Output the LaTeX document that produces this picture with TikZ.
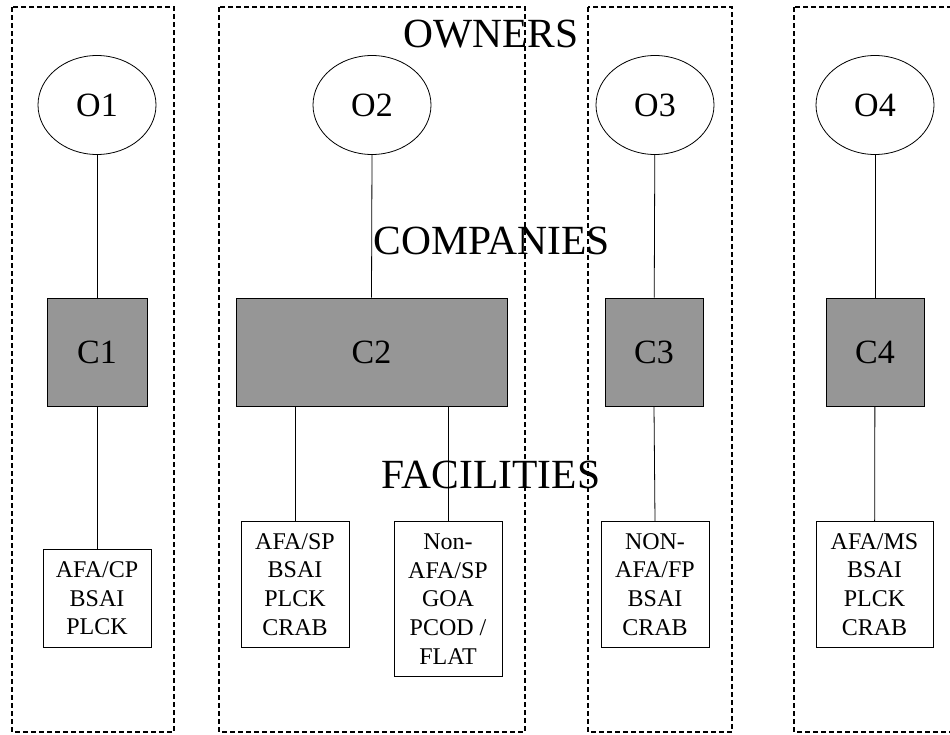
\documentclass[tikz,border=0pt]{standalone}
\usepackage{fontspec}
\setmainfont{Liberation Serif}
\usetikzlibrary{positioning}
\usetikzlibrary{shapes.geometric}
\definecolor{compgray}{RGB}{150,150,150}
\tikzstyle{owner} = [ellipse, draw=black, fill=white, line width=0.8pt, minimum width=118pt, minimum height=99pt, inner sep=0pt, font=\fontsize{34}{40}\selectfont]
\tikzstyle{company} = [rectangle, draw=black, fill=compgray, line width=0.8pt, minimum height=108pt, inner sep=0pt, font=\fontsize{34}{40}\selectfont]
\tikzstyle{facility} = [rectangle, draw=black, fill=white, line width=0.8pt, minimum width=108pt, inner sep=0pt, align=center, anchor=north, font=\fontsize{24}{28.7}\selectfont]
\tikzstyle{level} = [inner sep=0pt, anchor=base, font=\fontsize{41.5}{48}\selectfont]
\tikzstyle{link} = [line width=0.8pt]
\tikzstyle{group} = [dash pattern=on 5pt off 3pt]

\begin{document}
\begin{tikzpicture}[x=1pt,y=-1pt]
      \useasboundingbox (0,0) rectangle (950,734);
      % owners
      \node[owner] (o1) at (97,105) {O1};
      \node[owner] (o2) at (372,105) {O2};
      \node[owner] (o3) at (655,105) {O3};
      \node[owner] (o4) at (875,105) {O4};
      % companies
      \node[company, minimum width=100pt] (c1) at (97,352) {C1};
      \node[company, minimum width=271pt] (c2) at (371.5,352) {C2};
      \node[company, minimum width=98pt] (c3) at (654,352) {C3};
      \node[company, minimum width=98pt] (c4) at (875,352) {C4};
      % facilities
      \node[facility, minimum height=98pt] (f1) at (97,549) {AFA/CP\\BSAI\\PLCK};
      \node[facility, minimum height=126pt] (f2) at (295,521) {AFA/SP\\BSAI\\PLCK\\CRAB};
      \node[facility, minimum height=155pt] (f3) at (448,521) {Non-\\AFA/SP\\GOA\\PCOD /\\FLAT};
      \node[facility, minimum height=126pt] (f4) at (655,521) {NON-\\AFA/FP\\BSAI\\CRAB};
      \node[facility, minimum height=126pt, minimum width=117pt] (f5) at (874.5,521) {AFA/MS\\BSAI\\PLCK\\CRAB};
      % levels
      \node[level] (lo) at (491,47) {OWNERS};
      \node[level] (lc) at (492,254) {COMPANIES};
      \node[level] (lf) at (491,488) {FACILITIES};
      % links
      \draw[link] (o1)--(c1);
      \draw[link] (o2.south)--(c2.north);
      \draw[link] (o3)--(c3);
      \draw[link] (o4)--(c4);
      \draw[link] (c1)--(f1);
      \draw[link] (f2.north)--(f2.north |- c2.south);
      \draw[link] (f3.north)--(f3.north |- c2.south);
      \draw[link] (c3.south)--(f4.north);
      \draw[link] (c4)--(f5);
      % groups
      \draw[group, line width=1.6pt] (12,7) rectangle (174,732);
      \draw[group, line width=1.2pt] (219,7) rectangle (525,732);
      \draw[group, line width=1.2pt] (588,7) rectangle (732,732);
      \draw[group, line width=1.6pt] (794,7) rectangle (960,732);
\end{tikzpicture}
\end{document}
